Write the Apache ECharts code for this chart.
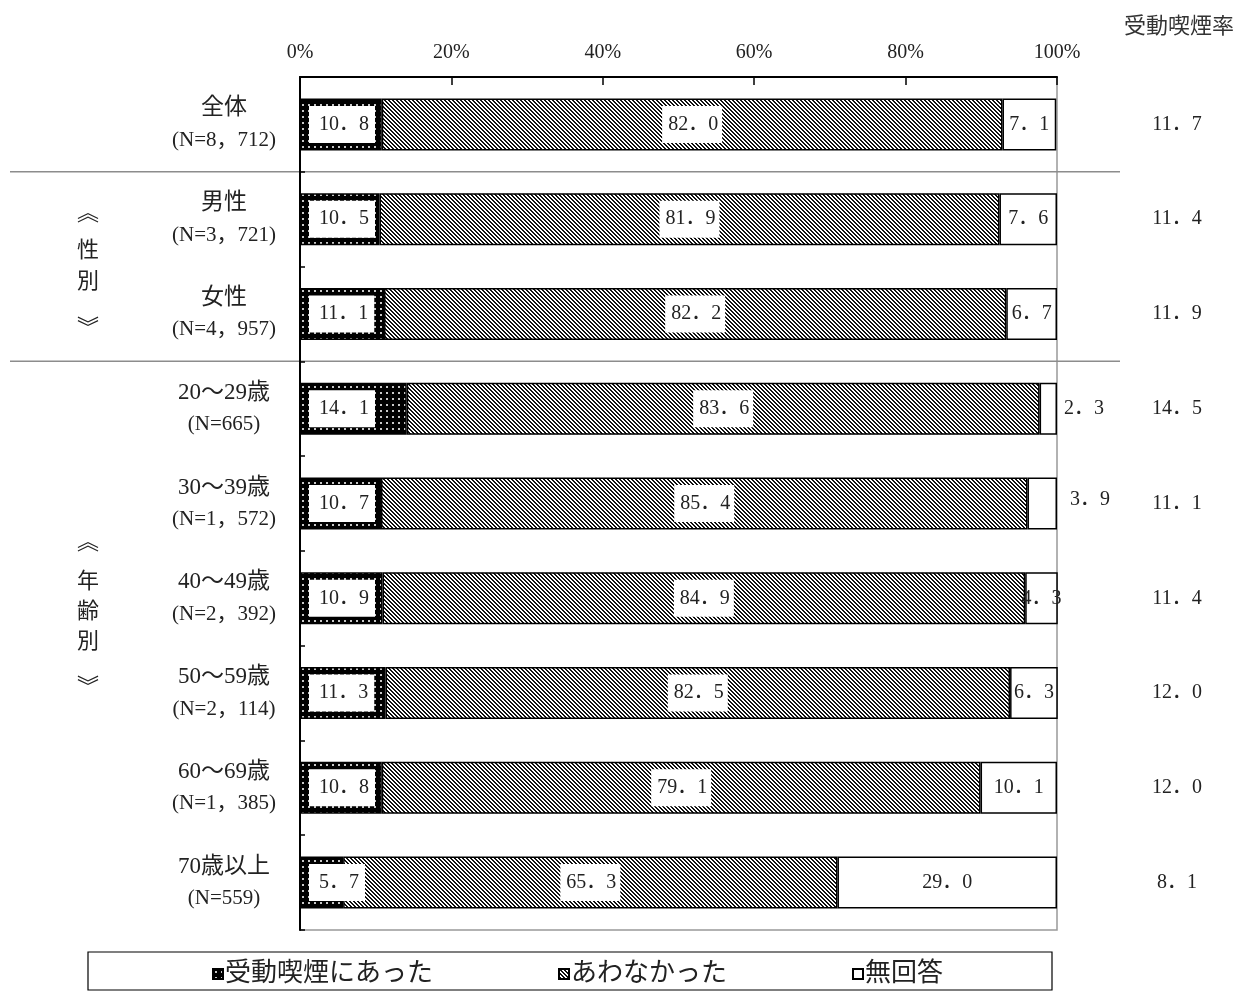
<!DOCTYPE html>
<html>
<head>
<meta charset="utf-8">
<script src="https://cdn.jsdelivr.net/npm/echarts@6/dist/echarts.min.js"></script>
<style>
  html, body { margin: 0; padding: 0; background: #fff; }
  #chart { width: 1249px; height: 992px; }
</style>
</head>
<body>
<div id="chart"></div>
<script>
// Respondent groups (top to bottom) and sample sizes
const groups = ['全体', '男性', '女性', '20～29歳', '30～39歳', '40～49歳', '50～59歳', '60～69歳', '70歳以上'];
const sampleSizes = ['8，712', '3，721', '4，957', '665', '1，572', '2，392', '2，114', '1，385', '559'];

// Shares (%) per answer
const exposed = [10.8, 10.5, 11.1, 14.1, 10.7, 10.9, 11.3, 10.8, 5.7];      // 受動喫煙にあった
const notExposed = [82.0, 81.9, 82.2, 83.6, 85.4, 84.9, 82.5, 79.1, 65.3];  // あわなかった
const noAnswer = [7.1, 7.6, 6.7, 2.3, 3.9, 4.3, 6.3, 10.1, 29.0];            // 無回答

// Passive smoking rate shown in the right-hand column
const exposureRate = [11.7, 11.4, 11.9, 14.5, 11.1, 11.4, 12.0, 12.0, 8.1];

const seriesNames = ['受動喫煙にあった', 'あわなかった', '無回答'];
const xTicks = [0, 20, 40, 60, 80, 100];

const FONT = "'Liberation Serif', 'Noto Sans CJK JP', serif";

// Fill patterns
function dotPattern() {
  const c = document.createElement('canvas');
  c.width = 6; c.height = 6;
  const g = c.getContext('2d');
  g.fillStyle = '#000'; g.fillRect(0, 0, 6, 6);
  g.fillStyle = '#c8c8c8'; g.fillRect(2, 2, 2, 2);
  return c;
}
function hatchPattern() {
  const c = document.createElement('canvas');
  c.width = 4; c.height = 4;
  const g = c.getContext('2d');
  g.fillStyle = '#fff'; g.fillRect(0, 0, 4, 4);
  g.fillStyle = '#111';
  for (let i = 0; i < 4; i++) {
    g.fillRect(i, i, 1, 1);
    g.fillRect((i + 1) % 4, i, 1, 1);
  }
  return c;
}

const chart = echarts.init(document.getElementById('chart'), null, { renderer: 'canvas' });

// Values are printed with a full-width decimal point, e.g. "10．8"
const fmt = v => v.toFixed(1).replace('.', '．');

const labelBase = { show: true, fontFamily: FONT, fontSize: 20, color: '#222', formatter: p => fmt(p.value) };

const noAnswerData = noAnswer.map((v, i) => {
  if (v < 4) {
    return { value: v, label: { position: 'right', distance: 7, offset: [i === 4 ? 6 : 0, i === 4 ? -4 : 0] } };
  }
  return v;
});

const option = {
  animation: false,
  textStyle: { fontFamily: FONT },
  title: {
    text: '受動喫煙率', right: 10, top: 11,
    textStyle: { fontFamily: FONT, fontSize: 22, fontWeight: 'normal', color: '#333' }
  },
  grid: { left: 300, right: 192, top: 77, bottom: 62, show: true, borderColor: '#999', borderWidth: 1.5, containLabel: false },
  xAxis: {
    type: 'value', position: 'top', min: 0, max: 100, interval: 20,
    axisLine: { show: true, lineStyle: { color: '#000', width: 2 } },
    axisTick: { show: true, inside: true, length: 8, lineStyle: { color: '#000', width: 1.5 } },
    axisLabel: { formatter: v => xTicks.includes(v) ? v + '%' : '', fontFamily: FONT, fontSize: 20, color: '#222', margin: 14 },
    splitLine: { show: false }
  },
  yAxis: [{
    type: 'category', data: groups, inverse: true,
    axisLine: { show: true, lineStyle: { color: '#000', width: 2 } },
    axisTick: { show: true, inside: true, length: 5, lineStyle: { color: '#000', width: 1.5 } },
    axisLabel: {
      align: 'center', margin: 76, fontFamily: FONT, color: '#222',
      formatter: (v, i) => '{a|' + v + '}\n{b|(N=' + sampleSizes[i] + ')}',
      rich: {
        a: { fontSize: 23, lineHeight: 32, fontFamily: FONT, color: '#222' },
        b: { fontSize: 21, lineHeight: 32, fontFamily: FONT, color: '#222' }
      }
    }
  }, {
    type: 'category', data: groups, inverse: true, position: 'right',
    axisLine: { show: false }, axisTick: { show: false },
    axisLabel: {
      align: 'center', margin: 120, fontFamily: FONT, fontSize: 20, color: '#222',
      formatter: (v, i) => fmt(exposureRate[i])
    }
  }],
  legend: {
    left: 207, top: 956, itemGap: 125, itemWidth: 10, itemHeight: 10,
    icon: 'rect',
    textStyle: { fontFamily: FONT, fontSize: 26, color: '#222', padding: [0, 0, 0, -3] },
    data: seriesNames
  },
  series: [
    {
      name: seriesNames[0], type: 'bar', stack: 'all', barWidth: 52,
      data: exposed,
      itemStyle: { color: { image: dotPattern(), repeat: 'repeat' }, borderColor: '#000', borderWidth: 1.5 },
      label: Object.assign({}, labelBase, { position: 'insideLeft', distance: 9, backgroundColor: '#fff', padding: [9, 6, 8, 10] })
    },
    {
      name: seriesNames[1], type: 'bar', stack: 'all', barWidth: 52,
      data: notExposed,
      itemStyle: { color: { image: hatchPattern(), repeat: 'repeat' }, borderColor: '#000', borderWidth: 1.5 },
      label: Object.assign({}, labelBase, { position: 'inside', backgroundColor: '#fff', padding: [9, 4, 8, 6] })
    },
    {
      name: seriesNames[2], type: 'bar', stack: 'all', barWidth: 52,
      data: noAnswerData,
      itemStyle: { color: '#fff', borderColor: '#000', borderWidth: 1.5 },
      label: Object.assign({}, labelBase, { position: 'inside' })
    }
  ]
};

chart.setOption(option);

// Separators and group captions placed from the category axis positions
const rowY = i => chart.convertToPixel({ yAxisIndex: 0 }, i);
const between = (a, b) => (rowY(a) + rowY(b)) / 2;

const sepStyle = { stroke: '#8c8c8c', lineWidth: 1.5 };
const graphics = [
  { type: 'line', shape: { x1: 10, y1: between(0, 1), x2: 1120, y2: between(0, 1) }, style: sepStyle, silent: true },
  { type: 'line', shape: { x1: 10, y1: between(2, 3), x2: 1120, y2: between(2, 3) }, style: sepStyle, silent: true },
  { type: 'rect', shape: { x: 88, y: 952, width: 964, height: 38 }, style: { fill: null, stroke: '#000', lineWidth: 1.2 }, silent: true }
];

function caption(chars, offsets, baseY) {
  chars.forEach((ch, k) => {
    graphics.push({
      type: 'text', x: 88, y: baseY + offsets[k], silent: true,
      style: { text: ch, font: '22px ' + FONT, fill: '#222', align: 'center', verticalAlign: 'middle' }
    });
  });
}
caption(['︽', '性', '別', '︾'], [-52, -15, 16, 63], between(1, 2));
caption(['︽', '年', '齢', '別', '︾'], [-55, -16, 14, 44, 90], rowY(5));

chart.setOption({ graphic: graphics });
</script>
</body>
</html>
